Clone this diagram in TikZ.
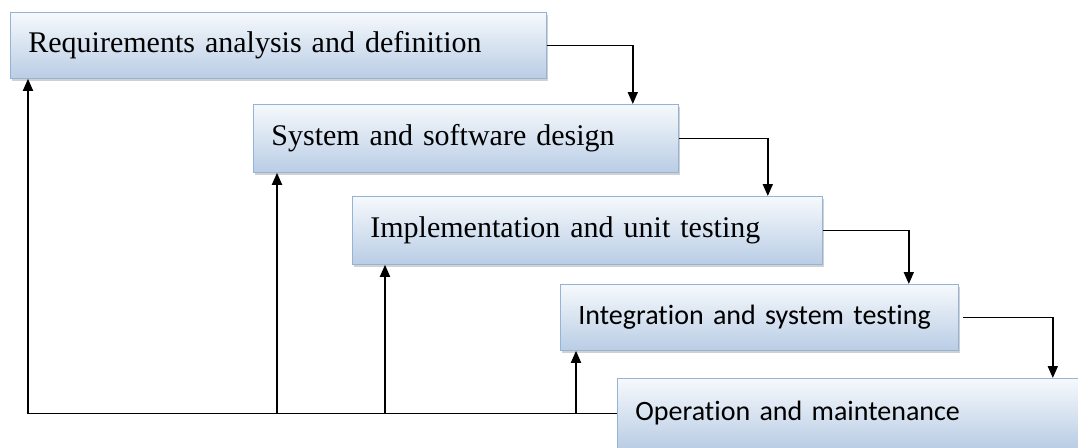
\documentclass[tikz,border=0pt]{standalone}
\usepackage{fontspec}
\setmainfont{Liberation Serif}
\newfontfamily\calib[Ligatures=NoCommon]{Carlito}
\usetikzlibrary{arrows.meta,shadows}
\definecolor{boxTop}{HTML}{F6F9FC}
\definecolor{boxBot}{HTML}{B9CDE5}
\definecolor{boxLine}{HTML}{95B3D7}
\begin{document}
\begin{tikzpicture}
  [x=1pt,y=-1pt,
   phase/.style={rectangle,draw=boxLine,line width=0.8pt,top color=boxTop,bottom color=boxBot,
                 anchor=north west,inner xsep=18pt,inner ysep=0pt,align=left,
                 drop shadow={shadow xshift=2pt,shadow yshift=-3pt,opacity=0.3,fill=black!60}},
   serifT/.style={font=\fontsize{30}{34}\selectfont},
   sansT/.style={font=\calib\fontsize{28}{32}\selectfont},
   flow/.style={line width=1.8pt,-{Triangle[length=12pt,width=10pt]}}
  ]
  \useasboundingbox (0,0) rectangle (1078,447);

  \node[phase,serifT,text width=500pt,minimum height=66pt] (req) at (10,12) {Requirements analysis and definition};
  \node[phase,serifT,text width=389pt,minimum height=68pt] (sys) at (253,104) {System and software design};
  \node[phase,serifT,text width=434pt,minimum height=68pt] (impl) at (352,196) {Implementation and unit testing};
  \node[phase,sansT,text width=362pt,minimum height=66pt] (integ) at (560,284) {Integration and system testing};
  \node[phase,sansT,text width=437pt,minimum height=70pt] (oper) at (617,378) {Operation and maintenance};

  % going down the steps
  \draw[flow] (req.east) -- ++(86,0) coordinate (d1) -- (d1 |- sys.north);
  \draw[flow] (sys.east) -- ++(89,0) coordinate (d2) -- (d2 |- impl.north);
  \draw[flow] (impl.east) -- ++(86,0) coordinate (d3) -- (d3 |- integ.north);
  \draw[flow] ([xshift=4pt]integ.east) -- ++(90,0) coordinate (d4) -- (d4 |- oper.north);

  % feedback
  \coordinate (u1) at ([xshift=18pt]req.south west);
  \coordinate (u2) at ([xshift=24pt]sys.south west);
  \coordinate (u3) at ([xshift=33pt]impl.south west);
  \coordinate (u4) at ([xshift=16pt]integ.south west);
  \draw[flow] (oper.west) -| (u1);
  \foreach \u in {u2,u3,u4} {
      \draw[flow] (oper.west -| \u) -- (\u);
  }

\end{tikzpicture}
\end{document}
